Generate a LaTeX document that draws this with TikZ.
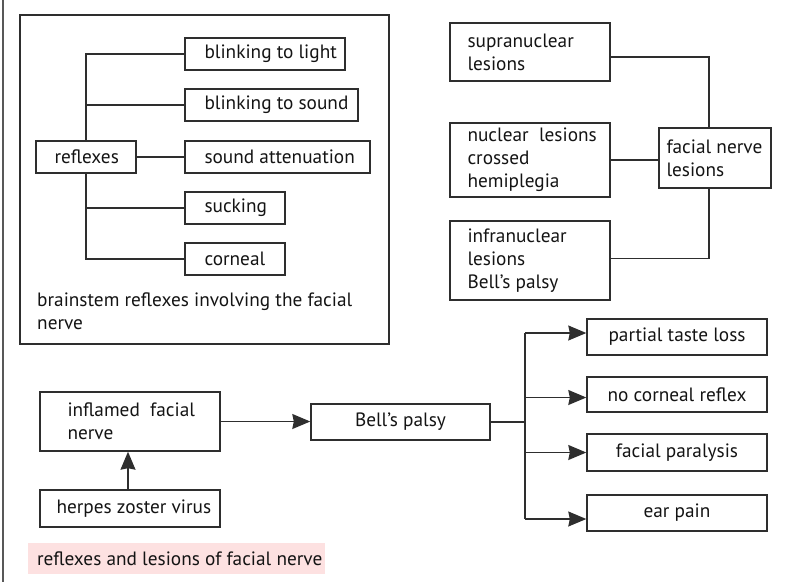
\documentclass[tikz,border=0pt]{standalone}
\usepackage{fontspec}
\setmainfont{PT Sans}
\usetikzlibrary{arrows.meta}
\definecolor{ln}{HTML}{2E2E2E}
\definecolor{tx}{HTML}{141414}
\definecolor{pinkbg}{HTML}{FDE1E1}
\begin{document}
\begin{tikzpicture}[x=1pt,y=-1pt,
  font=\fontsize{19.3}{23}\selectfont,
  box/.style={draw=ln, line width=1.4pt, inner sep=0pt},
  cbox/.style={draw=ln, line width=1.4pt, inner sep=0pt, align=center, text=tx},
  txt/.style={inner sep=0pt, align=left, anchor=west, text=tx},
  conn/.style={draw=ln, line width=1.3pt},
  arr/.style={conn, -{Stealth[length=18pt,width=15pt,inset=1.5pt]}}]
\useasboundingbox (0,0) rectangle (801,582);
% left border
\coordinate (lt) at (3,0);
\coordinate (lb) at (3,582);
\draw[draw=ln!80, line width=1.8pt] (lt) -- (lb);

% ---------- brainstem reflexes panel ----------
\node[box, minimum width=369pt, minimum height=329pt] (outer) at (204.5,179.5) {};
\node[box, minimum width=100pt, minimum height=32pt] (refl) at (86,157) {};
\node[txt] (reflt) at ([xshift=19pt]refl.west) {reflexes};
\node[box, minimum width=160pt, minimum height=32pt] (bl) at (265,54) {};
\node[txt] (blt) at ([xshift=20pt]bl.west) {blinking to light};
\node[box, minimum width=173pt, minimum height=32pt] (bs) at (271.5,105) {};
\node[txt] (bst) at ([xshift=20pt]bs.west) {blinking to sound};
\node[box, minimum width=185pt, minimum height=32pt] (sa) at (277.5,157) {};
\node[txt] (sat) at ([xshift=20pt]sa.west) {sound attenuation};
\node[box, minimum width=100pt, minimum height=32pt] (su) at (235,208) {};
\node[txt] (sut) at ([xshift=20pt]su.west) {sucking};
\node[box, minimum width=100pt, minimum height=32pt] (co) at (235,259) {};
\node[txt] (cot) at ([xshift=20pt]co.west) {corneal};
\draw[conn] (refl.north) |- (bl.west);
\draw[conn] (refl.north) |- (bs.west);
\draw[conn] (refl.east) -- (sa.west);
\draw[conn] (refl.south) |- (su.west);
\draw[conn] (refl.south) |- (co.west);
\node[txt, anchor=north west] (bcap) at (37,293) {brainstem reflexes involving the facial\\nerve};

% ---------- facial nerve lesions ----------
\node[box, minimum width=160pt, minimum height=58pt] (supra) at (530,52) {};
\node[txt] (suprat) at ([xshift=18pt]supra.west) {supranuclear\\lesions};
\node[box, minimum width=160pt, minimum height=74pt] (nuc) at (530,160) {};
\node[txt] (nuct) at ([xshift=18pt]nuc.west) {nuclear\ \ lesions\\crossed\\hemiplegia};
\node[box, minimum width=160pt, minimum height=79pt] (infra) at (530,260.5) {};
\node[txt] (infrat) at ([xshift=18pt]infra.west) {infranuclear\\lesions\\Bell’s palsy};
\node[box, minimum width=112pt, minimum height=60pt] (fnl) at (715,158) {};
\node[txt] (fnlt) at ([xshift=8pt]fnl.west) {facial nerve\\lesions};
\draw[conn] ([yshift=-5pt]supra.east) -| ([xshift=-6pt]fnl.north);
\draw[conn] (nuc.east) -- (nuc.east -| fnl.west);
\draw[conn] ([yshift=2pt]infra.east) -| ([xshift=-6pt]fnl.south);

% ---------- Bell's palsy ----------
\node[box, minimum width=180pt, minimum height=59pt] (infl) at (130,421.5) {};
\node[txt] (inflt) at ([xshift=28pt]infl.west) {inflamed\ \ facial\\nerve};
\node[box, minimum width=180pt, minimum height=37pt] (herp) at (130,508.5) {};
\node[txt] (herpt) at ([xshift=17pt]herp.west) {herpes zoster virus};
\node[cbox, minimum width=179pt, minimum height=36pt] (bell) at (400.5,422) {Bell’s palsy};
\draw[arr] ([xshift=-2pt]herp.north) -- ([xshift=-2pt]infl.south);
\draw[arr] (infl.east) -- (infl.east -| bell.west);

\node[cbox, minimum width=180pt, minimum height=36pt] (pt) at (677,337) {partial taste loss};
\node[cbox, minimum width=180pt, minimum height=35pt] (nc) at (677,394.5) {no corneal reflex};
\node[cbox, minimum width=180pt, minimum height=37pt] (fp) at (677,452.5) {facial paralysis};
\node[cbox, minimum width=180pt, minimum height=36pt] (ep) at (677,513) {ear pain};
\coordinate (bj) at (525,422);
\draw[conn] (bell.east) -- (bj);
\draw[conn] ([yshift=4pt]bj |- pt.west) -- ([yshift=-6pt]bj |- ep.west);
\draw[arr] ([yshift=4pt]bj |- pt.west) -- ([yshift=4pt]pt.west);
\draw[arr] ([yshift=-3pt]bj |- nc.west) -- ([yshift=-3pt]nc.west);
\draw[arr] (bj |- fp.west) -- (fp.west);
\draw[arr] ([yshift=-6pt]bj |- ep.west) -- ([yshift=-6pt]ep.west);

% ---------- caption ----------
\node[fill=pinkbg, minimum width=297pt, minimum height=31pt, inner sep=0pt] (cap) at (176.5,558.5) {};
\node[txt] (capt) at ([xshift=9pt]cap.west) {reflexes and lesions of facial nerve};
\end{tikzpicture}
\end{document}
